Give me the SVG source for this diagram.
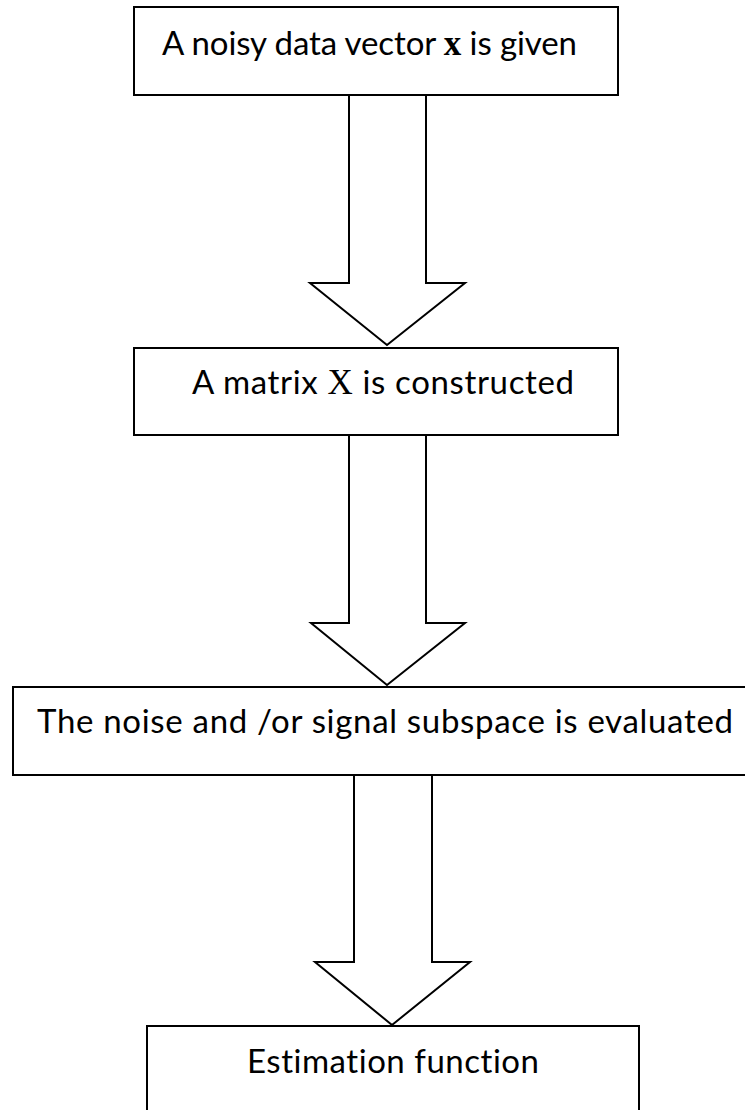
<svg xmlns="http://www.w3.org/2000/svg" width="745" height="1110" viewBox="0 0 745 1110">
<style>
.box{fill:#fff;stroke:#000;stroke-width:2}
.arr{fill:#fff;stroke:#000;stroke-width:2;stroke-linejoin:miter}
.t{font-family:Lato,"Open Sans","Liberation Sans",sans-serif;font-size:33px;fill:#000;font-variant-ligatures:none}
.m{font-family:"Liberation Serif",serif;font-size:35px}
</style>
<rect width="745" height="1110" fill="#fff"/>
<g id="connectors">
<polygon class="arr" points="349,95 426,95 426,283 465,283 387,345 310,283 349,283"/>
<polygon class="arr" points="349,435 426,435 426,623 465,623 387,685 311,623 349,623"/>
<polygon class="arr" points="354,775 432,775 432,962 470,962 392,1025 315,962 354,962"/>
</g>
<g id="node1">
<rect class="box" x="134" y="7" width="484" height="88"/>
<text class="t" x="162" y="55" textLength="415">A noisy data vector <tspan class="m" font-weight="bold">x</tspan> is given</text>
</g>
<g id="node2">
<rect class="box" x="134" y="348" width="484" height="87"/>
<text class="t" x="192" y="394" textLength="382">A matrix <tspan class="m">X</tspan> is constructed</text>
</g>
<g id="node3">
<rect class="box" x="13" y="687" width="740" height="88"/>
<text class="t" x="37" y="733" textLength="696">The noise and /or signal subspace is evaluated</text>
</g>
<g id="node4">
<rect class="box" x="147" y="1026" width="492" height="100"/>
<text class="t" x="247" y="1073" textLength="292">Estimation function</text>
</g>
</svg>
